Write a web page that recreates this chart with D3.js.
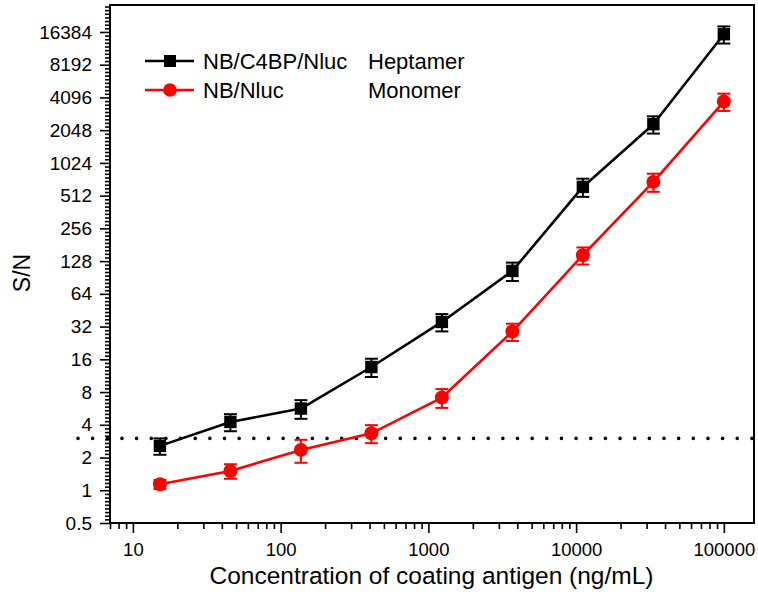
<!DOCTYPE html>
<html>
<head>
<meta charset="utf-8">
<script src="https://cdn.jsdelivr.net/npm/d3@7"></script>
<style>
  html, body { margin: 0; padding: 0; background: #fff; }
  svg { display: block; }
  text { font-family: "Liberation Sans", Arial, sans-serif; fill: #000; }
</style>
</head>
<body>
<svg id="chart" width="758" height="597"></svg>
<script>
// ---- data ----
const concentrations = [15.24, 45.72, 137.2, 411.5, 1234.6, 3703.7, 11111, 33333, 100000];
const heptamerValues = [2.56, 4.25, 5.64, 13.6, 35.3, 104, 616, 2325, 15620];
const heptamerErrors = [0.44, 0.76, 1.1, 2.6, 6.4, 20, 117, 420, 2800];
const monomerValues  = [1.135, 1.505, 2.35, 3.34, 7.12, 28.8, 145, 685, 3757];
const monomerErrors  = [0.11, 0.23, 0.56, 0.63, 1.4, 5.2, 26, 130, 680];
const seriesNames = ["NB/C4BP/Nluc", "NB/Nluc"];
const seriesTypes = ["Heptamer", "Monomer"];
const cutoff = 3;
const yTickValues = [0.5, 1, 2, 4, 8, 16, 32, 64, 128, 256, 512, 1024, 2048, 4096, 8192, 16384];
const xTickValues = [10, 100, 1000, 10000, 100000];
const xTitle = "Concentration of coating antigen (ng/mL)";
const yTitle = "S/N";

// ---- layout ----
const L = 110, R = 754, T = 5, B = 523;
const svg = d3.select("#chart");

const x = d3.scaleLog().domain([7, 160000]).range([L, R]);
const y = d3.scaleLog().base(2).domain([0.5, 29000]).range([B, T]);

// minor ticks
const xMinor = [];
for (let p = 0; p <= 5; p++) {
  for (let k = 2; k <= 9; k++) {
    const v = k * Math.pow(10, p);
    if (v >= 7 && v <= 160000) xMinor.push(v);
  }
}
const yMinor = [];
for (let e = -1; e <= 15; e++) {
  for (let k = 1; k <= 8; k++) {
    const v = Math.pow(2, e + k / 9);
    if (v > 0.5 && v < 29000) yMinor.push(v);
  }
}

// axes
const gxMinor = svg.append("g").attr("transform", `translate(0,${B})`)
  .call(d3.axisBottom(x).tickValues(xMinor).tickSize(6).tickFormat(""));
const gx = svg.append("g").attr("transform", `translate(0,${B})`)
  .call(d3.axisBottom(x).tickValues(xTickValues).tickSize(10).tickPadding(10).tickFormat(d3.format("d")));
const gyMinor = svg.append("g").attr("transform", `translate(${L},0)`)
  .call(d3.axisLeft(y).tickValues(yMinor).tickSize(5).tickFormat(""));
const gy = svg.append("g").attr("transform", `translate(${L},0)`)
  .call(d3.axisLeft(y).tickValues(yTickValues).tickSize(10).tickPadding(8).tickFormat(d => String(d)));

[gx, gxMinor, gy, gyMinor].forEach(g => {
  g.select(".domain").remove();
  g.selectAll(".tick line").attr("stroke", "#000").attr("stroke-width", 1.6);
});
gx.selectAll(".tick text").style("font-size", "18.5px").attr("fill", "#000");
gy.selectAll(".tick text").style("font-size", "19px").attr("fill", "#000");

// frame
svg.append("rect").attr("x", L).attr("y", T).attr("width", R - L).attr("height", B - T)
  .attr("fill", "none").attr("stroke", "#000").attr("stroke-width", 2);

// cutoff dotted line
svg.append("line")
  .attr("x1", 78).attr("x2", 752)
  .attr("y1", y(cutoff)).attr("y2", y(cutoff))
  .attr("stroke", "#000").attr("stroke-width", 3.6)
  .attr("stroke-linecap", "round").attr("stroke-dasharray", "0,14.65");

// series
const series = [
  { vals: heptamerValues, errs: heptamerErrors, color: "#000", shape: "square" },
  { vals: monomerValues, errs: monomerErrors, color: "#ff0000", shape: "circle" }
];

const line = d3.line().curve(d3.curveLinear).x(d => x(d[0])).y(d => y(d[1]));

series.forEach(s => {
  const pts = concentrations.map((c, i) => [c, s.vals[i], s.errs[i]]);
  const g = svg.append("g");
  g.append("path").attr("d", line(pts)).attr("fill", "none")
    .attr("stroke", s.color).attr("stroke-width", 2.6).attr("stroke-linejoin", "round");
  // error bars
  const eb = g.selectAll(".eb").data(pts).enter().append("g");
  eb.append("line")
    .attr("x1", d => x(d[0])).attr("x2", d => x(d[0]))
    .attr("y1", d => y(d[1] + d[2])).attr("y2", d => y(d[1] - d[2]))
    .attr("stroke", s.color).attr("stroke-width", 2);
  [1, -1].forEach(sg => {
    eb.append("line")
      .attr("x1", d => x(d[0]) - 6.5).attr("x2", d => x(d[0]) + 6.5)
      .attr("y1", d => y(d[1] + sg * d[2])).attr("y2", d => y(d[1] + sg * d[2]))
      .attr("stroke", s.color).attr("stroke-width", 2);
  });
  if (s.shape === "square") {
    g.selectAll(".m").data(pts).enter().append("rect")
      .attr("x", d => x(d[0]) - 6.2).attr("y", d => y(d[1]) - 6.2)
      .attr("width", 12.4).attr("height", 12.4).attr("fill", s.color);
  } else {
    g.selectAll(".m").data(pts).enter().append("circle")
      .attr("cx", d => x(d[0])).attr("cy", d => y(d[1])).attr("r", 7)
      .attr("fill", s.color);
  }
});

// legend
const legendRows = [61, 90];
series.forEach((s, i) => {
  const ly = legendRows[i];
  svg.append("line").attr("x1", 145).attr("x2", 194).attr("y1", ly).attr("y2", ly)
    .attr("stroke", s.color).attr("stroke-width", 2.6);
  if (s.shape === "square") {
    svg.append("rect").attr("x", 170 - 6).attr("y", ly - 6).attr("width", 12).attr("height", 12).attr("fill", s.color);
  } else {
    svg.append("circle").attr("cx", 170).attr("cy", ly).attr("r", 6.8).attr("fill", s.color);
  }
  svg.append("text").attr("x", 203).attr("y", ly + 8).style("font-size", "22px").text(seriesNames[i]);
  svg.append("text").attr("x", 368).attr("y", ly + 8).style("font-size", "22px").text(seriesTypes[i]);
});

// titles
svg.append("text").attr("x", 431.5).attr("y", 584).attr("text-anchor", "middle")
  .style("font-size", "24.5px").text(xTitle);
svg.append("text").attr("transform", "translate(30,273) rotate(-90)").attr("text-anchor", "middle")
  .style("font-size", "23px").text(yTitle);
</script>
</body>
</html>
